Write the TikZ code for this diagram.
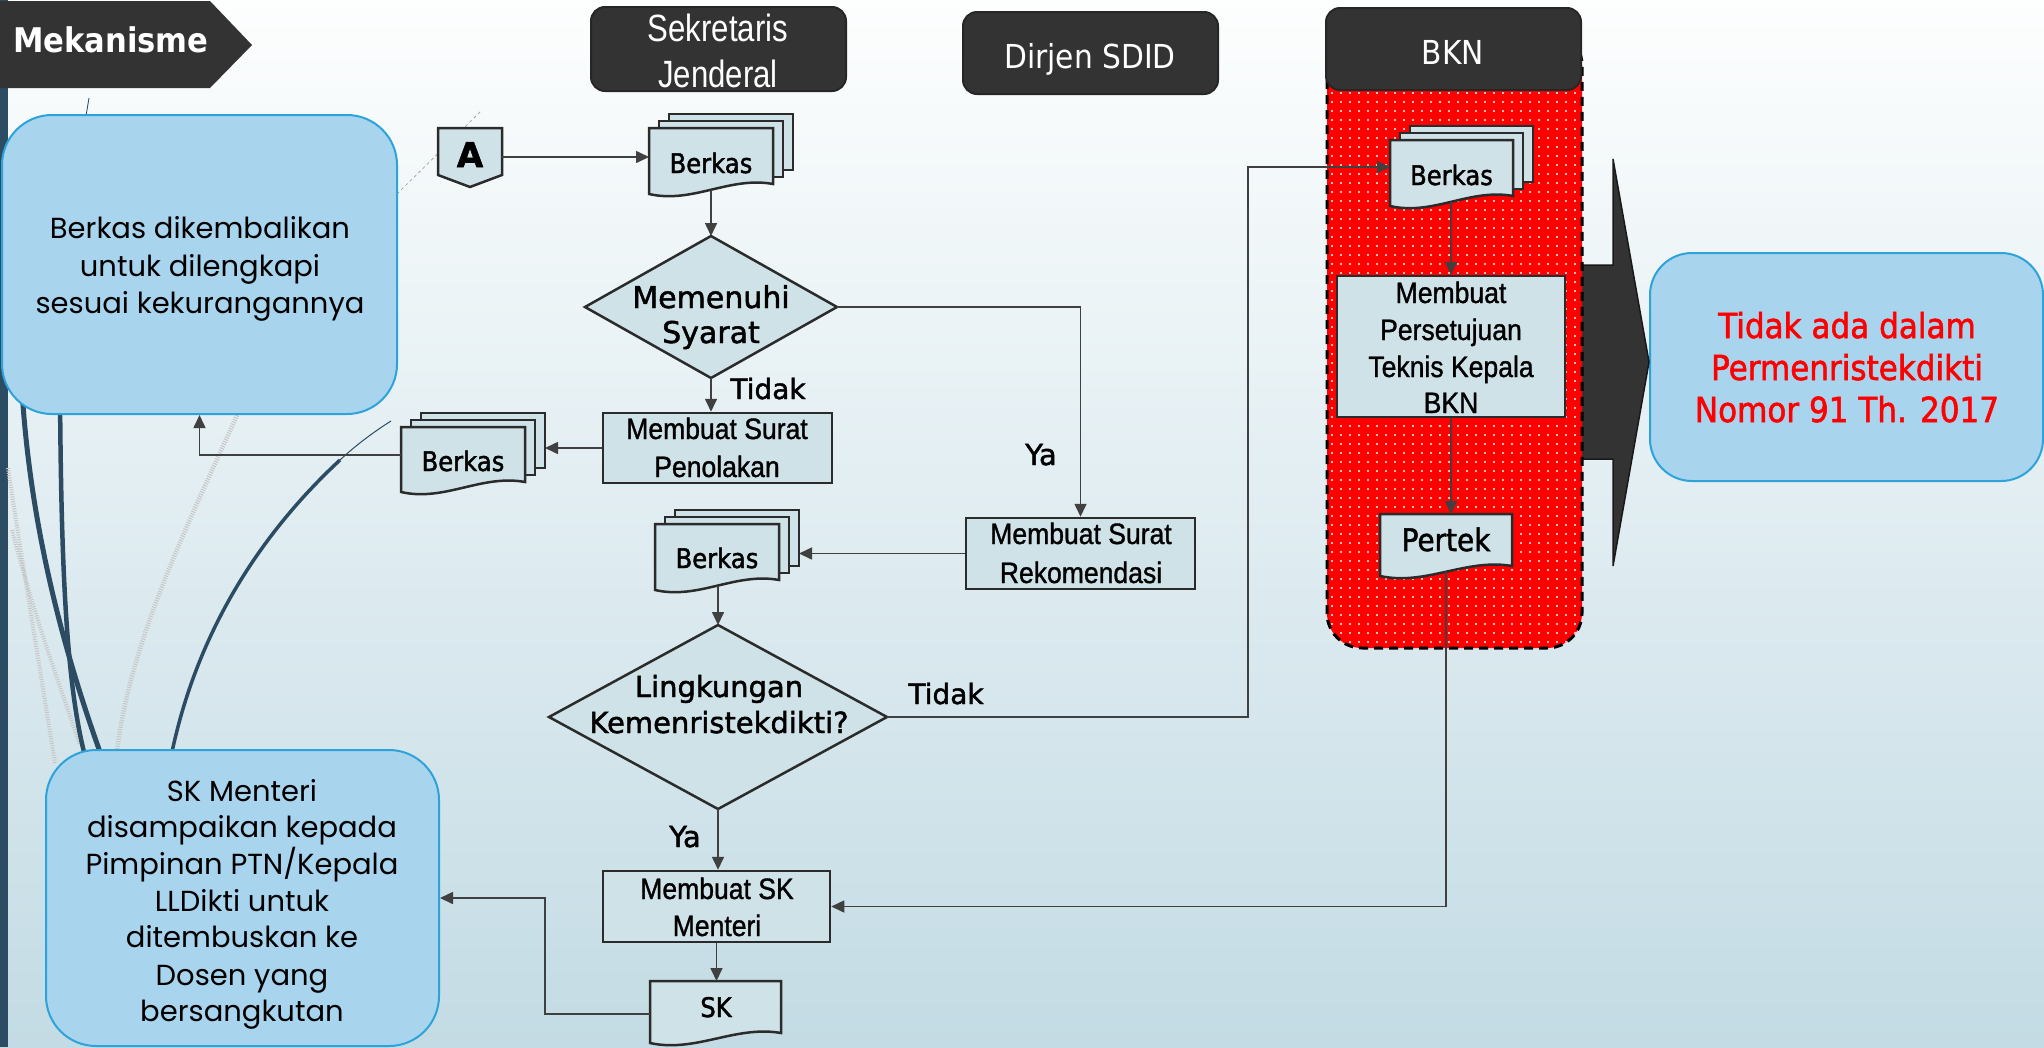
\documentclass[tikz,border=0pt]{standalone}
\usepackage{fontspec}
\usetikzlibrary{arrows.meta,patterns.meta}
\newfontfamily\fG{Poppins}
\newfontfamily\fT[FakeStretch=0.9]{DejaVu Sans}
\newfontfamily\fTb[FakeStretch=0.9,FakeBold=1.6]{DejaVu Sans}
\newfontfamily\fVb[FakeBold=1.6]{DejaVu Sans}
\newfontfamily\fNb[FakeStretch=0.9,FakeBold=1.1]{Liberation Sans}
\newfontfamily\fH[FakeStretch=0.82]{Liberation Sans}
\definecolor{bgtop}{HTML}{FDFEFE}
\definecolor{bgbot}{HTML}{C3DBE4}
\definecolor{slate}{HTML}{2C4C63}
\definecolor{dark}{HTML}{333333}
\definecolor{flow}{HTML}{CFE2E8}
\definecolor{edge}{HTML}{2B2B2B}
\definecolor{conn}{HTML}{404040}
\definecolor{notefill}{HTML}{A8D4EE}
\definecolor{noteline}{HTML}{2DA3DA}
\tikzset{
 shp/.style={draw=edge, line width=2.5pt, fill=flow, line join=miter},
 note/.style={draw=noteline, line width=2pt, fill=notefill, rounded corners=50pt, inner sep=0pt},
 hdr/.style={draw=black!85, line width=2pt, fill=dark, rounded corners=14pt, inner sep=0pt},
 arr/.style={draw=conn, line width=1.6pt, -{Triangle[length=13pt,width=12pt]}},
 txt/.style={anchor=base, inner sep=0pt},
 boxn/.style={shp, inner sep=0pt},
 hatch/.style={draw=gray!45, dash pattern=on 1pt off 1.4pt},
}
\newcommand\mydoc[4]{\draw[shp] (#1,#2) -- (#3,#2) -- (#3,#4) .. controls ({#1+0.65*(#3-#1)},{#4-8}) and ({#1+0.35*(#3-#1)},{#4+20}) .. (#1,{#4+10}) -- cycle;}
\newcommand\mymulti[4]{\draw[shp] ({#1+20},{#2-14}) rectangle ({#3+20},{#4-14}); \draw[shp] ({#1+10},{#2-7}) rectangle ({#3+10},{#4-7}); \mydoc{#1}{#2}{#3}{#4}}
\newcommand\fs[2]{\fontsize{#1}{#2}\selectfont}
\begin{document}
\begin{tikzpicture}[x=1pt,y=-1pt]
\useasboundingbox (0,0) rectangle (2044,1047);
\shade[top color=bgtop, bottom color=bgbot] (0,0) rectangle (2044,1047);
% left bar and decorative curves
\fill[slate] (0,0) rectangle (8,1047);
\draw[hatch, line width=4pt] (8,468) .. controls (25,580) and (45,700) .. (55,763);
\draw[hatch, line width=4pt] (12,530) .. controls (35,620) and (65,700) .. (80,745);
\draw[slate, line width=0.9pt] (89,98) -- (86,116);
\draw[slate, line width=5pt] (22,390) .. controls (30,520) and (60,640) .. (100,752);
\draw[slate, line width=4.5pt] (60,390) .. controls (61,560) and (66,680) .. (84,752);
\draw[hatch, line width=4.5pt] (238,413) .. controls (190,520) and (130,640) .. (117,752);
\draw[slate, line width=1pt] (391,421) .. controls (372,433) and (355,446) .. (340,460);
\draw[slate, line width=3.5pt] (340,460) .. controls (270,525) and (200,620) .. (172,752);
\draw[gray!70, line width=0.8pt, dashed] (397,194) -- (480,112);
% notes
\node[note, minimum width=395pt, minimum height=299pt] (n1) at (199.5,264.5) {};
\node[note, minimum width=393pt, minimum height=296pt] (n2) at (242.5,898) {};
\node[note, rounded corners=42pt, minimum width=393pt, minimum height=228pt] (n3) at (1846.5,367) {};
% banner
\fill[dark] (0,1) -- (210,1) -- (252,45) -- (210,88) -- (0,88) -- cycle;
\node[txt, anchor=base west, text=white, font=\fT\bfseries\fs{34}{40}] (mek) at (13,52) {Mekanisme};
% headers
\node[hdr, minimum width=255pt, minimum height=84pt] (hs) at (718.5,49) {};
\node[hdr, minimum width=255pt, minimum height=82pt] (hd) at (1090.5,53) {};
% big arrow
\draw[fill=dark, draw=black!90, line width=1.5pt] (1578,265) -- (1613,265) -- (1613,159) -- (1649,362) -- (1613,566) -- (1613,459) -- (1578,459) -- cycle;
% BKN lane
\path[preaction={fill=red}, pattern={Dots[distance=9pt,radius=1.1pt]}, pattern color=white, rounded corners=35pt] (1327,30) rectangle (1582,648);
\draw[black, line width=3pt, dash pattern=on 9pt off 6pt, rounded corners=35pt] (1327,30) rectangle (1582,648);
\node[hdr, minimum width=255pt, minimum height=82pt] (hb) at (1453.5,49) {};
% flow shapes
\draw[shp] (438,128) -- (502,128) -- (502,175) -- (470,187) -- (438,175) -- cycle;
\coordinate (Ae) at (502,157);
\mymulti{649}{128}{773}{184}
\coordinate (b1w) at (649,157);
\coordinate (b1s) at (711,190);
\draw[shp] (585,307) -- (711,236) -- (837,307) -- (711,378) -- cycle;
\coordinate (dmn) at (711,236);
\coordinate (dme) at (837,307);
\coordinate (dms) at (711,378);
\node[boxn, minimum width=229pt, minimum height=70pt] (pen) at (717.5,448) {};
\mymulti{401}{427}{525}{482}
\coordinate (b2e) at (545,448);
\coordinate (b2w) at (401,455);
\node[boxn, minimum width=229pt, minimum height=71pt] (rek) at (1080.5,553.5) {};
\mymulti{655}{524}{779}{580}
\coordinate (b3e) at (799,553.5);
\coordinate (b3s) at (718,586);
\draw[shp] (549,717) -- (718,625) -- (887,717) -- (718,809) -- cycle;
\coordinate (dln) at (718,625);
\coordinate (dle) at (887,717);
\coordinate (dls) at (718,809);
\coordinate (j1) at (1248,717);
\node[boxn, minimum width=227pt, minimum height=71pt] (skb) at (716.5,906.5) {};
\mydoc{650}{981}{781}{1033}
\coordinate (skn) at (716.5,981);
\coordinate (skw) at (650,1014);
\coordinate (j2) at (545,1014);
\mymulti{1390}{140}{1513}{196}
\coordinate (b4w) at (1390,167);
\coordinate (b4s) at (1451,202);
\node[boxn, minimum width=228pt, minimum height=141pt] (per) at (1451,346.5) {};
\mydoc{1380}{514}{1512}{566}
\coordinate (ptn) at (1451,514);
\coordinate (pts) at (1446,572);
% connectors
\draw[arr] (Ae) -- (b1w);
\draw[arr] (b1s) -- (dmn);
\draw[arr] (dms) -- (dms |- pen.north);
\draw[arr] (pen.west) -- (b2e);
\draw[arr] (b2w) -- (n1.south |- b2w) -- (n1.south);
\draw[arr] (dme) -| (rek.north);
\draw[arr] (rek.west) -- (b3e);
\draw[arr] (b3s) -- (dln);
\draw[arr] (dle) -- (j1) |- (b4w);
\draw[arr] (b4s) -- (b4s |- per.north);
\draw[arr] (per.south) -- (ptn);
\draw[arr] (pts) |- (skb.east);
\draw[arr] (dls) -- (dls |- skb.north);
\draw[arr] (skb.south) -- (skn);
\draw[arr] (skw) -- (j2) |- (n2.east);
% texts
\begin{scope}[every node/.style={txt}]
\node[font=\fG\fs{29}{36}] (t1) at (200,238) {Berkas dikembalikan};
\node[font=\fG\fs{29}{36}] (t2) at (200,276) {untuk dilengkapi};
\node[font=\fG\fs{29}{36}] (t3) at (200,313) {sesuai kekurangannya};
\node[font=\fG\fs{29}{36}] (u1) at (242,801) {SK Menteri};
\node[font=\fG\fs{29}{36}] (u2) at (242,837) {disampaikan kepada};
\node[font=\fG\fs{29}{36}] (u3) at (242,874) {Pimpinan PTN/Kepala};
\node[font=\fG\fs{29}{36}] (u4) at (242,911) {LLDikti untuk};
\node[font=\fG\fs{29}{36}] (u5) at (242,947) {ditembuskan ke};
\node[font=\fG\fs{29}{36}] (u6) at (242,985) {Dosen yang};
\node[font=\fG\fs{29}{36}] (u7) at (242,1021) {bersangkutan};
\node[font=\fH\fs{38}{44}, text=white] (h1) at (718,41) {Sekretaris};
\node[font=\fH\fs{38}{44}, text=white] (h2) at (718,87) {Jenderal};
\node[font=\fT\fs{33}{40}, text=white] (h3) at (1090,68) {Dirjen SDID};
\node[font=\fT\fs{33}{40}, text=white] (h4) at (1453,64) {BKN};
\node[font=\fVb\bfseries\fs{34}{40}] (ta) at (470,167) {A};
\node[font=\fTb\fs{27}{32}] (tb1) at (711,173) {Berkas};
\node[font=\fTb\fs{27}{32}] (tb2) at (463,471) {Berkas};
\node[font=\fTb\fs{27}{32}] (tb3) at (717,568) {Berkas};
\node[font=\fTb\fs{27}{32}] (tb4) at (1451.5,185) {Berkas};
\node[font=\fVb\fs{30}{36}] (tm1) at (711,308) {Memenuhi};
\node[font=\fVb\fs{30}{36}] (tm2) at (711,343) {Syarat};
\node[font=\fVb\fs{28}{34}] (lt1) at (768,399) {Tidak};
\node[font=\fNb\fs{29.5}{36}] (tp1) at (717,439) {Membuat Surat};
\node[font=\fNb\fs{29.5}{36}] (tp2) at (717,477) {Penolakan};
\node[font=\fVb\fs{29}{34}] (ly1) at (1041,465) {Ya};
\node[font=\fNb\fs{29.5}{36}] (tr1) at (1081,544) {Membuat Surat};
\node[font=\fNb\fs{29.5}{36}] (tr2) at (1081,583) {Rekomendasi};
\node[font=\fVb\fs{29}{36}] (tl1) at (719,697) {Lingkungan};
\node[font=\fVb\fs{29}{36}] (tl2) at (719,733) {Kemenristekdikti?};
\node[font=\fVb\fs{28}{34}] (lt2) at (946,704) {Tidak};
\node[font=\fVb\fs{29}{34}] (ly2) at (685,847) {Ya};
\node[font=\fNb\fs{29.5}{36}] (ts1) at (717,899) {Membuat SK};
\node[font=\fNb\fs{29.5}{36}] (ts2) at (717,936) {Menteri};
\node[font=\fTb\fs{27}{32}] (tsk) at (716,1017) {SK};
\node[font=\fNb\fs{29.5}{36}] (tq1) at (1451,303) {Membuat};
\node[font=\fNb\fs{29.5}{36}] (tq2) at (1451,340) {Persetujuan};
\node[font=\fNb\fs{29.5}{36}] (tq3) at (1451,377) {Teknis Kepala};
\node[font=\fNb\fs{29.5}{36}] (tq4) at (1451,413) {BKN};
\node[font=\fTb\fs{31}{36}] (tpt) at (1446,551) {Pertek};
\node[font=\fTb\fs{34.5}{42}, text=red] (r1) at (1847,338) {Tidak ada dalam};
\node[font=\fTb\fs{34.5}{42}, text=red] (r2) at (1847,380) {Permenristekdikti};
\node[font=\fTb\fs{34.5}{42}, text=red] (r3) at (1847,422) {Nomor 91 Th. 2017};
\end{scope}
\end{tikzpicture}
\end{document}
